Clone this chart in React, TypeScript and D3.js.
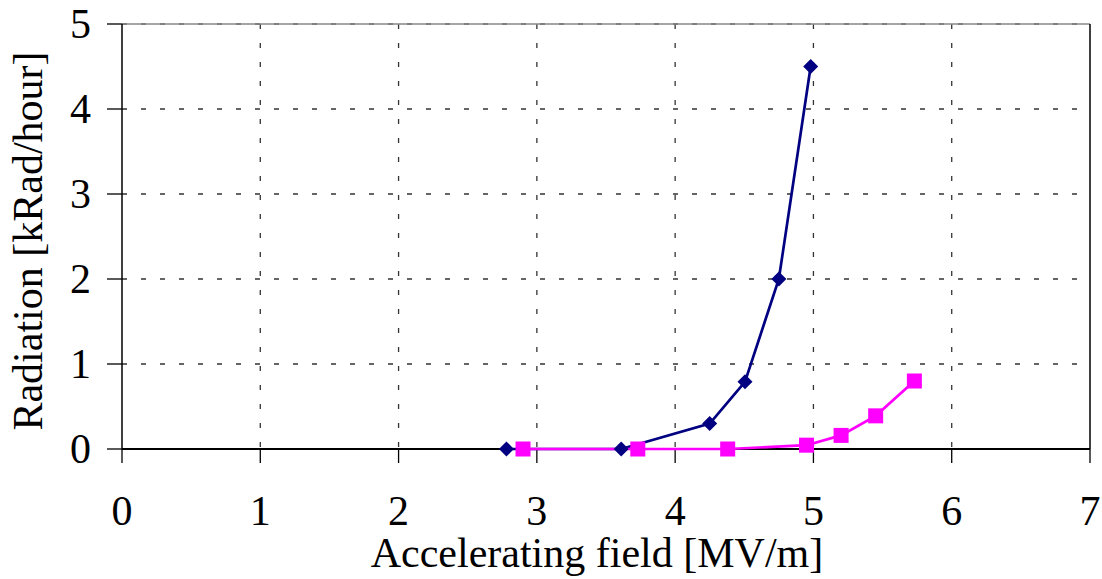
import React from "react";
import * as d3 from "d3";

const xTicks = [0, 1, 2, 3, 4, 5, 6, 7];
const yTicks = [0, 1, 2, 3, 4, 5];

const blueX = [2.78, 3.61, 4.25, 4.505, 4.75, 4.98];
const blueY = [0, 0, 0.3, 0.79, 2.0, 4.5];

const pinkX = [2.9, 3.73, 4.38, 4.95, 5.2, 5.45, 5.73];
const pinkY = [0, 0, 0, 0.045, 0.16, 0.39, 0.8];

const xTitle = "Accelerating field [MV/m]";
const yTitle = "Radiation [kRad/hour]";

export default function App() {
  const W = 1102, H = 579;
  const left = 122, right = 1090, top = 24, bottom = 449;
  const x = d3.scaleLinear().domain([0, 7]).range([left, right]);
  const y = d3.scaleLinear().domain([0, 5]).range([bottom, top]);
  const line = d3.line<[number, number]>().x(d => x(d[0])).y(d => y(d[1]));
  const blue: [number, number][] = blueX.map((v, i) => [v, blueY[i]]);
  const pink: [number, number][] = pinkX.map((v, i) => [v, pinkY[i]]);
  const font = "'Liberation Serif', 'Times New Roman', serif";
  const grid = "#333";
  return (
    <svg width={W} height={H} style={{ position: "absolute", left: 0, top: 0, background: "#fff" }}>
      {yTicks.filter(t => t > 0).map(t => (
        <line key={"gy" + t} x1={left} x2={right} y1={y(t)} y2={y(t)} stroke={grid} strokeWidth={1.3} strokeDasharray="5,14" />
      ))}
      {xTicks.filter(t => t > 0 && t < 7).map(t => (
        <line key={"gx" + t} x1={x(t)} x2={x(t)} y1={top} y2={bottom} stroke={grid} strokeWidth={1.3} strokeDasharray="5,14" />
      ))}
      <line x1={left} x2={right} y1={top} y2={top} stroke="#888" strokeWidth={1.5} />
      <line x1={right} x2={right} y1={top} y2={bottom} stroke="#000" strokeWidth={1.5} />
      <line x1={left} x2={left} y1={top} y2={bottom} stroke="#000" strokeWidth={1.5} />
      <line x1={left} x2={right} y1={bottom} y2={bottom} stroke="#000" strokeWidth={2} />
      {xTicks.map(t => (
        <line key={"tx" + t} x1={x(t)} x2={x(t)} y1={bottom} y2={bottom + 14} stroke="#000" strokeWidth={1.3} />
      ))}
      {yTicks.map(t => (
        <line key={"ty" + t} x1={left - 15} x2={left} y1={y(t)} y2={y(t)} stroke="#000" strokeWidth={1.3} />
      ))}
      {xTicks.map(t => (
        <text key={"lx" + t} x={x(t)} y={525} textAnchor="middle" fontFamily={font} fontSize={42} fill="#000">{t}</text>
      ))}
      {yTicks.map(t => (
        <text key={"ly" + t} x={91} y={y(t) + 14} textAnchor="end" fontFamily={font} fontSize={42} fill="#000">{t}</text>
      ))}
      <text x={597} y={567} textAnchor="middle" fontFamily={font} fontSize={42} fill="#000">{xTitle}</text>
      <text transform={`translate(42,241) rotate(-90)`} textAnchor="middle" fontFamily={font} fontSize={42} fill="#000">{yTitle}</text>
      <path d={line(blue) || ""} fill="none" stroke="#000080" strokeWidth={2.7} />
      <path d={line(pink) || ""} fill="none" stroke="#FF00FF" strokeWidth={2.7} />
      {blue.map((d, i) => (
        <path key={"b" + i} d={`M${x(d[0])},${y(d[1]) - 7.5}L${x(d[0]) + 7.5},${y(d[1])}L${x(d[0])},${y(d[1]) + 7.5}L${x(d[0]) - 7.5},${y(d[1])}Z`} fill="#000080" />
      ))}
      {pink.map((d, i) => (
        <rect key={"p" + i} x={x(d[0]) - 7.5} y={y(d[1]) - 7.5} width={15} height={15} fill="#FF00FF" />
      ))}
    </svg>
  );
}
